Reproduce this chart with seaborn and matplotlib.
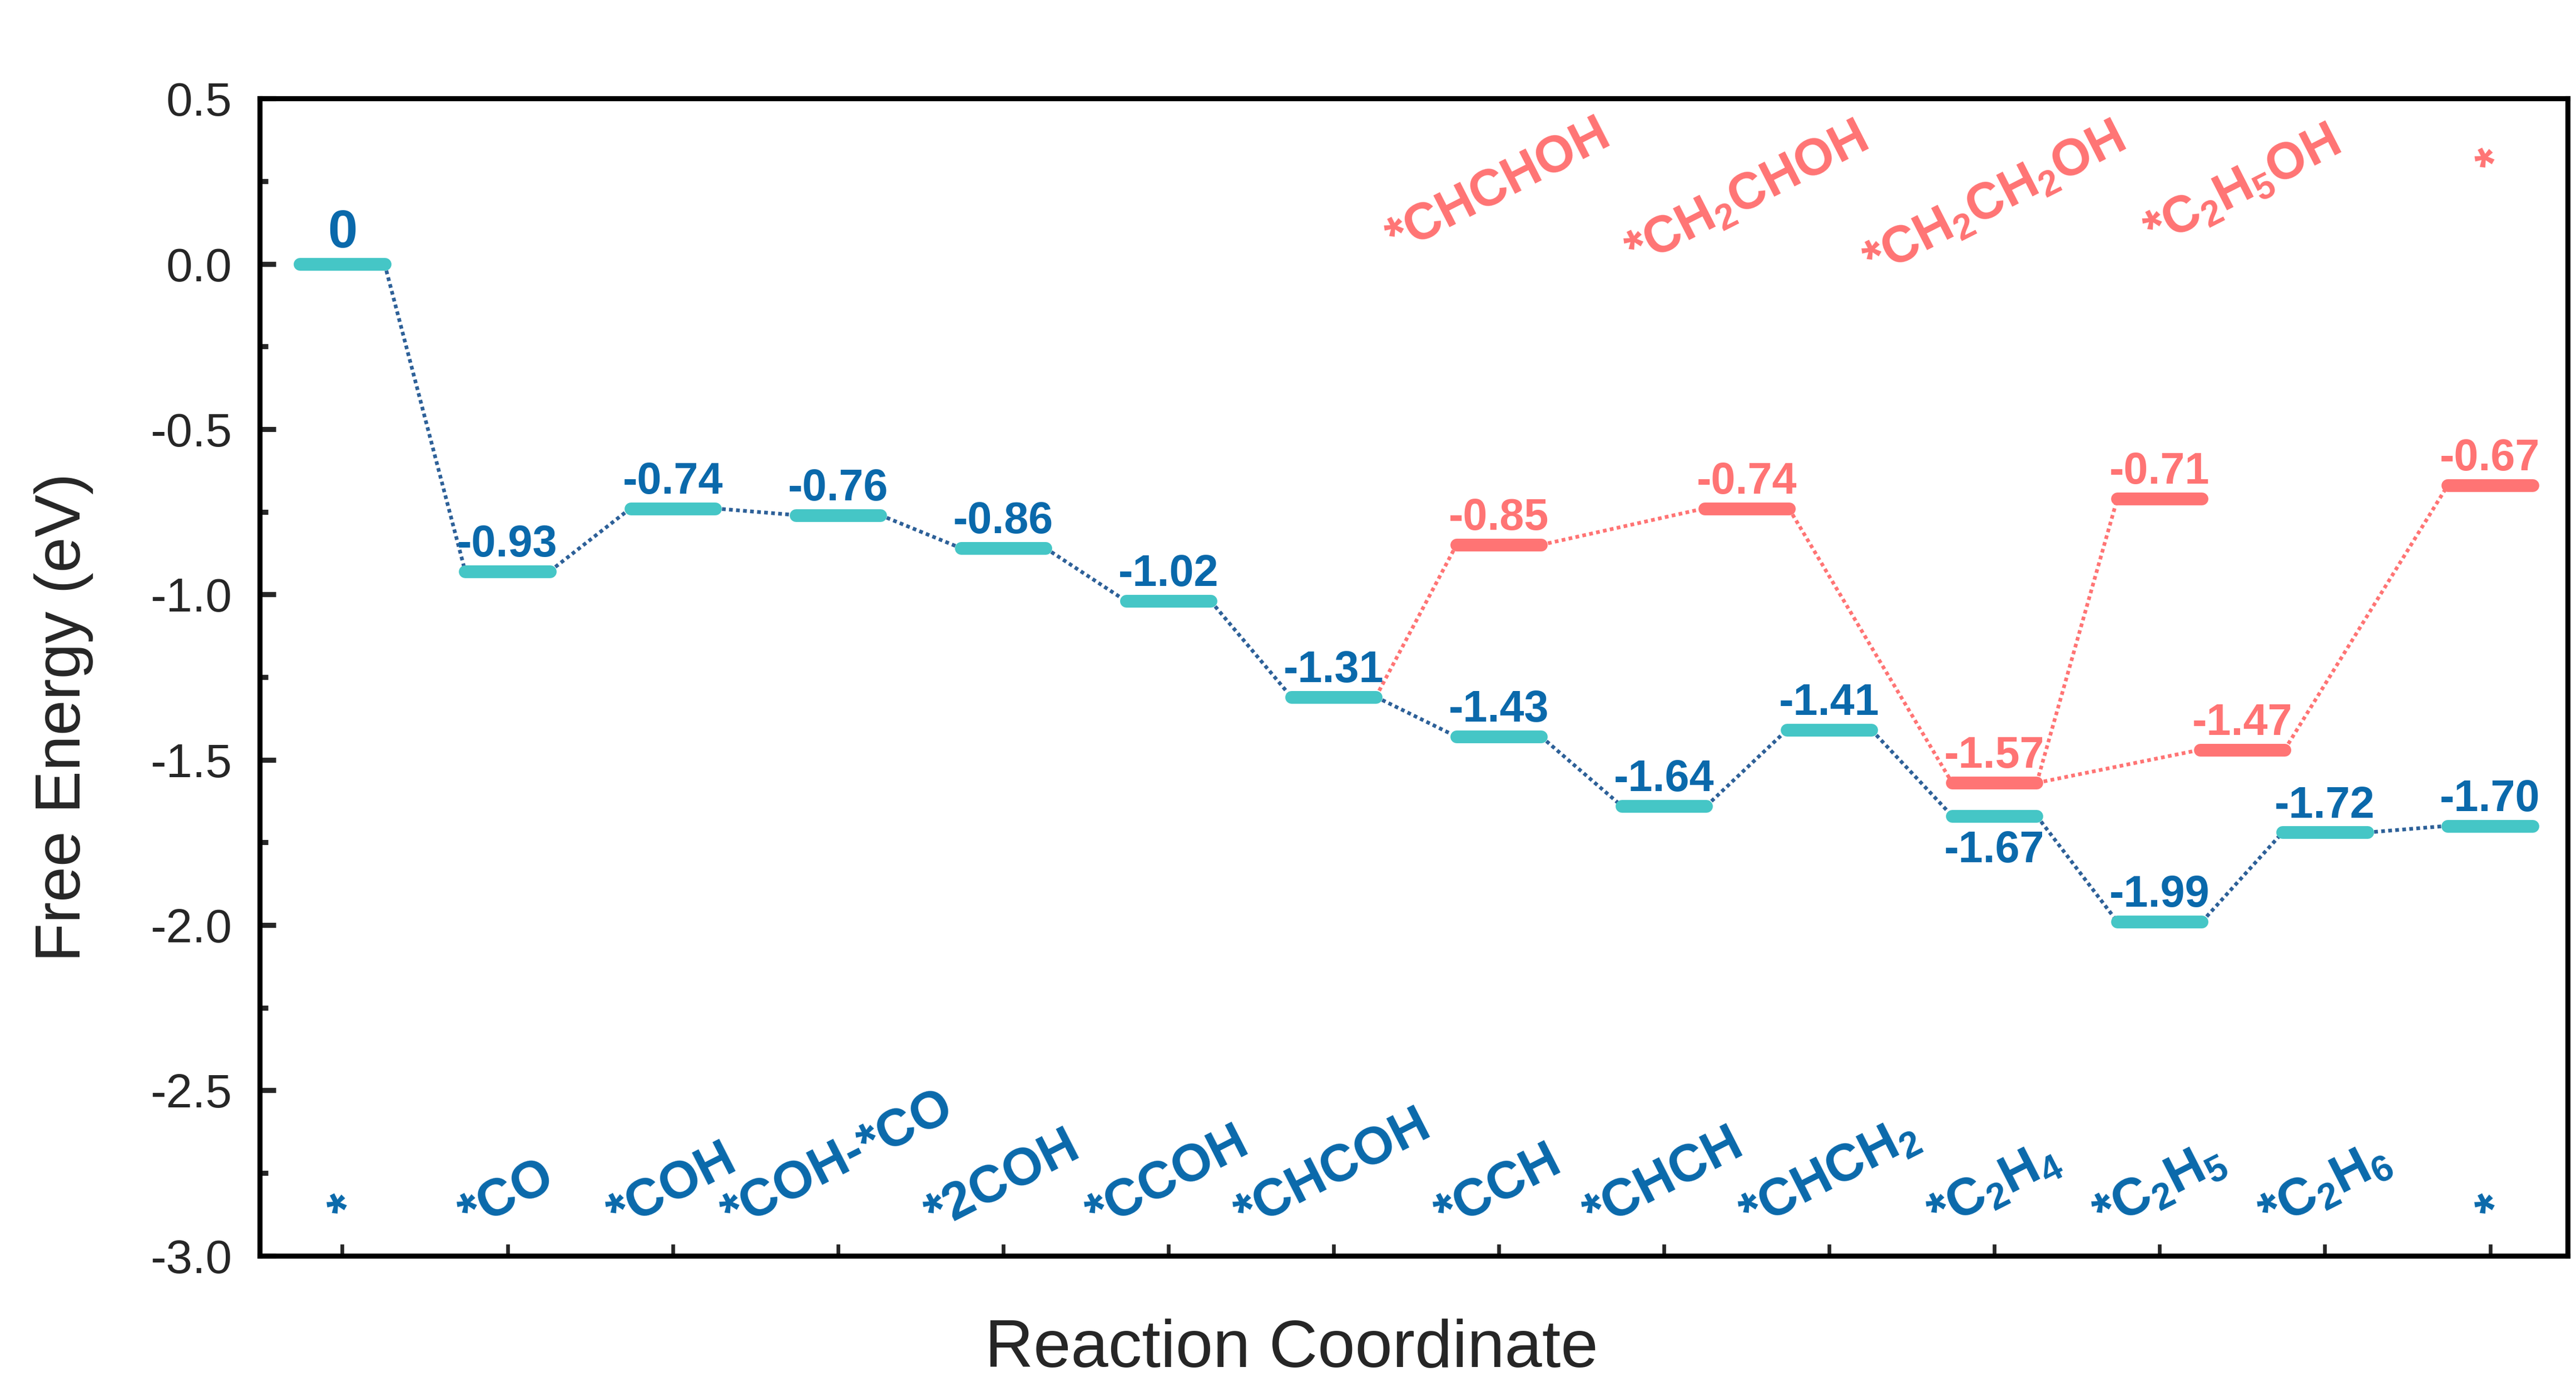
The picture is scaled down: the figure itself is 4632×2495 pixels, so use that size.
"""
Free energy diagram for CO reduction on the catalyst surface:
main pathway towards C2H4 / C2H6 (teal levels) and the ethanol
branch (red levels). Saves out.png.
"""

import pandas as pd
import matplotlib.pyplot as plt
import seaborn as sns

# main pathway (towards ethylene / ethane)
main_x = [1, 2, 3, 4, 5, 6, 7, 8, 9, 10, 11, 12, 13, 14]
main_energy = [0.00, -0.93, -0.74, -0.76, -0.86, -1.02, -1.31,
               -1.43, -1.64, -1.41, -1.67, -1.99, -1.72, -1.70]
main_species = ["*", "*CO", "*COH", "*COH-*CO", "*2COH", "*CCOH", "*CHCOH",
                "*CCH", "*CHCH", "*CHCH$_2$", "*C$_2$H$_4$", "*C$_2$H$_5$",
                "*C$_2$H$_6$", "*"]

# ethanol branch
branch_x = [8, 9.5, 11, 12, 12.5, 14]
branch_energy = [-0.85, -0.74, -1.57, -0.71, -1.47, -0.67]
branch_species = ["*CHCHOH", "*CH$_2$CHOH", "*CH$_2$CH$_2$OH", "",
                  "*C$_2$H$_5$OH", "*"]
# links between levels: (path, index) -> (path, index)
branch_links = [(("main", 6), ("branch", 0)),
                (("branch", 0), ("branch", 1)),
                (("branch", 1), ("branch", 2)),
                (("branch", 2), ("branch", 3)),
                (("branch", 2), ("branch", 4)),
                (("branch", 4), ("branch", 5))]

TEAL = "#45C6C6"
BLUE = "#0A69AB"
BLUE_LINK = "#2D6098"
RED = "#FF7474"
HW = 0.256          # half width of a level bar
LEVEL_LW = 5.5
FONT = "Liberation Sans"

sns.set_style("ticks")
plt.rcParams["font.family"] = [FONT, "DejaVu Sans"]
plt.rcParams["mathtext.fontset"] = "custom"
plt.rcParams["mathtext.rm"] = f"{FONT}:bold"
plt.rcParams["mathtext.bf"] = f"{FONT}:bold"
plt.rcParams["mathtext.it"] = f"{FONT}:bold"
plt.rcParams["mathtext.default"] = "rm"

levels = {"main": (main_x, main_energy), "branch": (branch_x, branch_energy)}

# connector segments, right end of one level to left end of the next
rows = []
for i in range(len(main_x) - 1):
    rows.append({"seg": f"m{i}", "path": "main", "x": main_x[i] + HW, "y": main_energy[i]})
    rows.append({"seg": f"m{i}", "path": "main", "x": main_x[i + 1] - HW, "y": main_energy[i + 1]})
for k, ((p0, i0), (p1, i1)) in enumerate(branch_links):
    x0, e0 = levels[p0][0][i0], levels[p0][1][i0]
    x1, e1 = levels[p1][0][i1], levels[p1][1][i1]
    rows.append({"seg": f"b{k}", "path": "branch", "x": x0 + HW, "y": e0})
    rows.append({"seg": f"b{k}", "path": "branch", "x": x1 - HW, "y": e1})
links = pd.DataFrame(rows)

fig = plt.figure(figsize=(4632 / 300, 2495 / 300), dpi=300)
ax = fig.add_axes([0.1008, 0.0947, 0.8960, 0.8343])

sns.lineplot(data=links, x="x", y="y", hue="path", units="seg", estimator=None,
             sort=False, palette={"main": BLUE_LINK, "branch": RED},
             linestyle=(0, (1.0, 0.9)), linewidth=1.6, legend=False, ax=ax, zorder=2)

ax.hlines(branch_energy, [x - HW for x in branch_x], [x + HW for x in branch_x],
          colors=RED, linewidth=LEVEL_LW, capstyle="round", zorder=3)
ax.hlines(main_energy, [x - HW for x in main_x], [x + HW for x in main_x],
          colors=TEAL, linewidth=LEVEL_LW, capstyle="round", zorder=3)

# energy values
for x, e in zip(main_x, main_energy):
    if e == 0:
        ax.text(x, e + 0.05, "0", color=BLUE, fontsize=23, fontweight="bold",
                ha="center", va="baseline")
    elif x == 11:
        ax.text(x, e - 0.14, f"{e:.2f}", color=BLUE, fontsize=19, fontweight="bold",
                ha="center", va="baseline")
    else:
        ax.text(x, e + 0.045, f"{e:.2f}", color=BLUE, fontsize=19, fontweight="bold",
                ha="center", va="baseline")
for x, e in zip(branch_x, branch_energy):
    ax.text(x, e + 0.045, f"{e:.2f}", color=RED, fontsize=19, fontweight="bold",
            ha="center", va="baseline")

# species names
for x, name in zip(main_x, main_species):
    ax.text(x, -2.955, name, color=BLUE, fontsize=22.5, fontweight="bold",
            rotation=27, ha="center", va="bottom")
branch_label_y = [0.0, -0.04, -0.07, None, 0.02, 0.21]
for x, name, ly in zip(branch_x, branch_species, branch_label_y):
    if name:
        ax.text(x, ly, name, color=RED, fontsize=22, fontweight="bold",
                rotation=27, ha="center", va="bottom")

ax.set_xlim(0.5, 14.47)
ax.set_ylim(-3.0, 0.5)
ax.set_xticks(main_x)
ax.set_xticklabels([])
ax.set_yticks([0.5, 0.0, -0.5, -1.0, -1.5, -2.0, -2.5, -3.0])
ax.set_yticklabels(["0.5", "0.0", "-0.5", "-1.0", "-1.5", "-2.0", "-2.5", "-3.0"])
ax.set_yticks([0.25, -0.25, -0.75, -1.25, -1.75, -2.25, -2.75], minor=True)
ax.tick_params(axis="y", which="major", direction="in", length=7, width=2.2,
               labelsize=20.5, pad=12, right=False)
ax.tick_params(axis="y", which="minor", direction="in", length=3.5, width=2.2, right=False)
ax.tick_params(axis="x", which="major", direction="in", length=5, width=1.6, top=False)
for side in ["left", "right", "top", "bottom"]:
    ax.spines[side].set_visible(True)
    ax.spines[side].set_linewidth(2.2)
    ax.spines[side].set_color("black")

ax.set_xlabel("Reaction Coordinate", fontsize=29)
ax.set_ylabel("Free Energy (eV)", fontsize=27.5)
ax.xaxis.set_label_coords(0.447, -0.054)
ax.yaxis.set_label_coords(-0.072, 0.465)

fig.savefig("out.png", dpi=300, facecolor="white")
